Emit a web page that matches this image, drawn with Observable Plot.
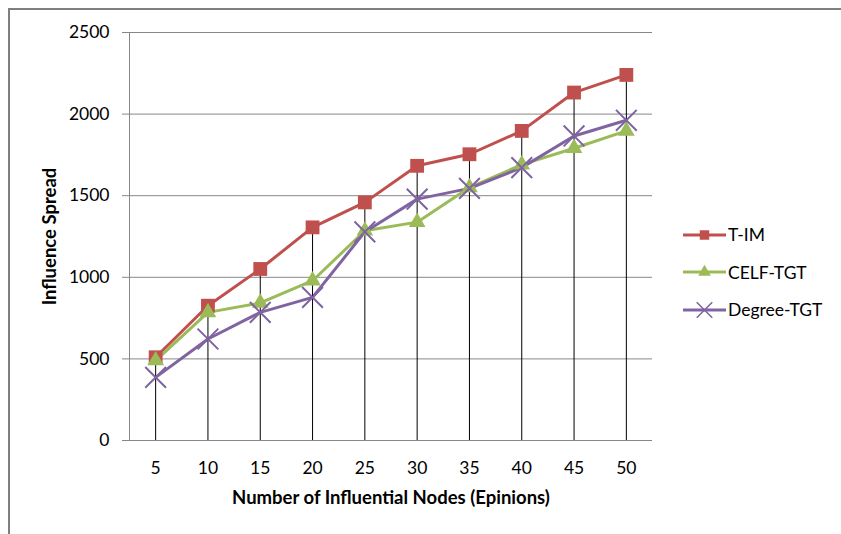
<!DOCTYPE html>
<html>
<head>
<meta charset="utf-8">
<script src="https://cdn.jsdelivr.net/npm/d3@7"></script>
<script src="https://cdn.jsdelivr.net/npm/@observablehq/plot@0.6"></script>
<style>
  html, body { margin: 0; padding: 0; background: #fff; }
  body { width: 841px; height: 534px; position: relative; overflow: hidden; font-family: Lato, "Open Sans", sans-serif; }
  #border { position: absolute; left: 8px; top: 8px; width: 900px; height: 600px; border-left: 2px solid #7f7f7f; border-top: 2px solid #7f7f7f; box-sizing: border-box; }
  #chart { position: absolute; left: 0; top: 0; }
  #legend { position: absolute; left: 683px; top: 216px; font-size: 17.5px; color: #000; }
  .item { display: flex; align-items: center; height: 37.5px; }
  .item svg { margin-right: 2px; }
</style>
</head>
<body>
<div id="border"></div>
<div id="chart"></div>
<div id="legend"></div>
<script>
const nodes = [5, 10, 15, 20, 25, 30, 35, 40, 45, 50];
const timValues = [510, 826, 1051, 1306, 1459, 1683, 1754, 1897, 2132, 2240];
const celfValues = [490, 785, 843, 979, 1285, 1338, 1550, 1690, 1791, 1897];
const degreeValues = [387, 622, 785, 877, 1278, 1479, 1545, 1672, 1866, 1962];
const yTicks = [0, 500, 1000, 1500, 2000, 2500];
const seriesNames = ["T-IM", "CELF-TGT", "Degree-TGT"];
const seriesColors = ["#C0504D", "#9BBB59", "#8064A2"];
const seriesSymbols = ["square", "triangle", "times"];

const seriesValues = [timValues, celfValues, degreeValues];
const tables = seriesValues.map((vals, i) => nodes.map((n, j) => ({x: n, y: vals[j], s: seriesNames[i]})));
const maxTable = nodes.map((n, j) => ({x: n, y: d3.max(seriesValues, v => v[j])}));

const grid = "#878787";
const font = "Lato, 'Open Sans', sans-serif";

const chart = Plot.plot({
  width: 841,
  height: 534,
  marginLeft: 129,
  marginRight: 189,
  marginTop: 32,
  marginBottom: 94,
  style: {fontFamily: font, fontSize: "17.5px", color: "#000", background: "transparent"},
  x: {type: "linear", domain: [2.5, 52.5]},
  y: {domain: [0, 2500]},
  marks: [
    Plot.ruleY(yTicks, {stroke: grid, strokeWidth: 1}),
    Plot.ruleX([2.5], {stroke: grid, strokeWidth: 1}),
    Plot.axisY({ticks: yTicks, tickSize: 7, tickPadding: 13, stroke: grid, label: null, tickFormat: d => String(d), fontSize: 17.5}),
    Plot.axisX({ticks: nodes, tickSize: 0, tickPadding: 21, label: null, tickFormat: d => String(d), fontSize: 17.5}),
    ...tables.map((t, i) => Plot.line(t, {x: "x", y: "y", stroke: seriesColors[i], strokeWidth: 3})),
    Plot.ruleX(maxTable, {x: "x", y1: 0, y2: "y", stroke: "#000", strokeWidth: 1}),
    Plot.dot(tables[0], {x: "x", y: "y", symbol: "square", r: 7.8, fill: seriesColors[0], stroke: "none"}),
    Plot.dot(tables[1], {x: "x", y: "y", symbol: "triangle", r: 6.2, fill: seriesColors[1], stroke: "none"}),
    Plot.dot(tables[2], {x: "x", y: "y", symbol: "times", r: 9.5, stroke: seriesColors[2], strokeWidth: 2, fill: "none"}),
    Plot.text(["Influence Spread"], {frameAnchor: "left", dx: -79, rotate: -90, textAnchor: "middle", lineAnchor: "middle", fontWeight: "bold", fontSize: 18.5, fill: "#000"}),
    Plot.text(["Number of Influential Nodes (Epinions)"], {frameAnchor: "bottom", dy: 58, textAnchor: "middle", lineAnchor: "middle", fontWeight: "bold", fontSize: 18.5, fill: "#000"})
  ]
});
document.getElementById("chart").appendChild(chart);

// legend
const legend = d3.select("#legend");
seriesNames.forEach((name, i) => {
  const item = legend.append("div").attr("class", "item");
  const svg = item.append("svg").attr("width", 43).attr("height", 16);
  svg.append("line").attr("x1", 0).attr("x2", 43).attr("y1", 8).attr("y2", 8)
    .attr("stroke", seriesColors[i]).attr("stroke-width", 3);
  const sym = {square: d3.symbolSquare, triangle: d3.symbolTriangle, times: d3.symbolTimes}[seriesSymbols[i]];
  const size = {square: 90, triangle: 70, times: 160}[seriesSymbols[i]];
  const p = svg.append("path").attr("d", d3.symbol(sym, size)()).attr("transform", "translate(21.5,8)");
  if (seriesSymbols[i] === "times") p.attr("fill", "none").attr("stroke", seriesColors[i]).attr("stroke-width", 1.5);
  else p.attr("fill", seriesColors[i]);
  item.append("span").text(name);
});
</script>
</body>
</html>
